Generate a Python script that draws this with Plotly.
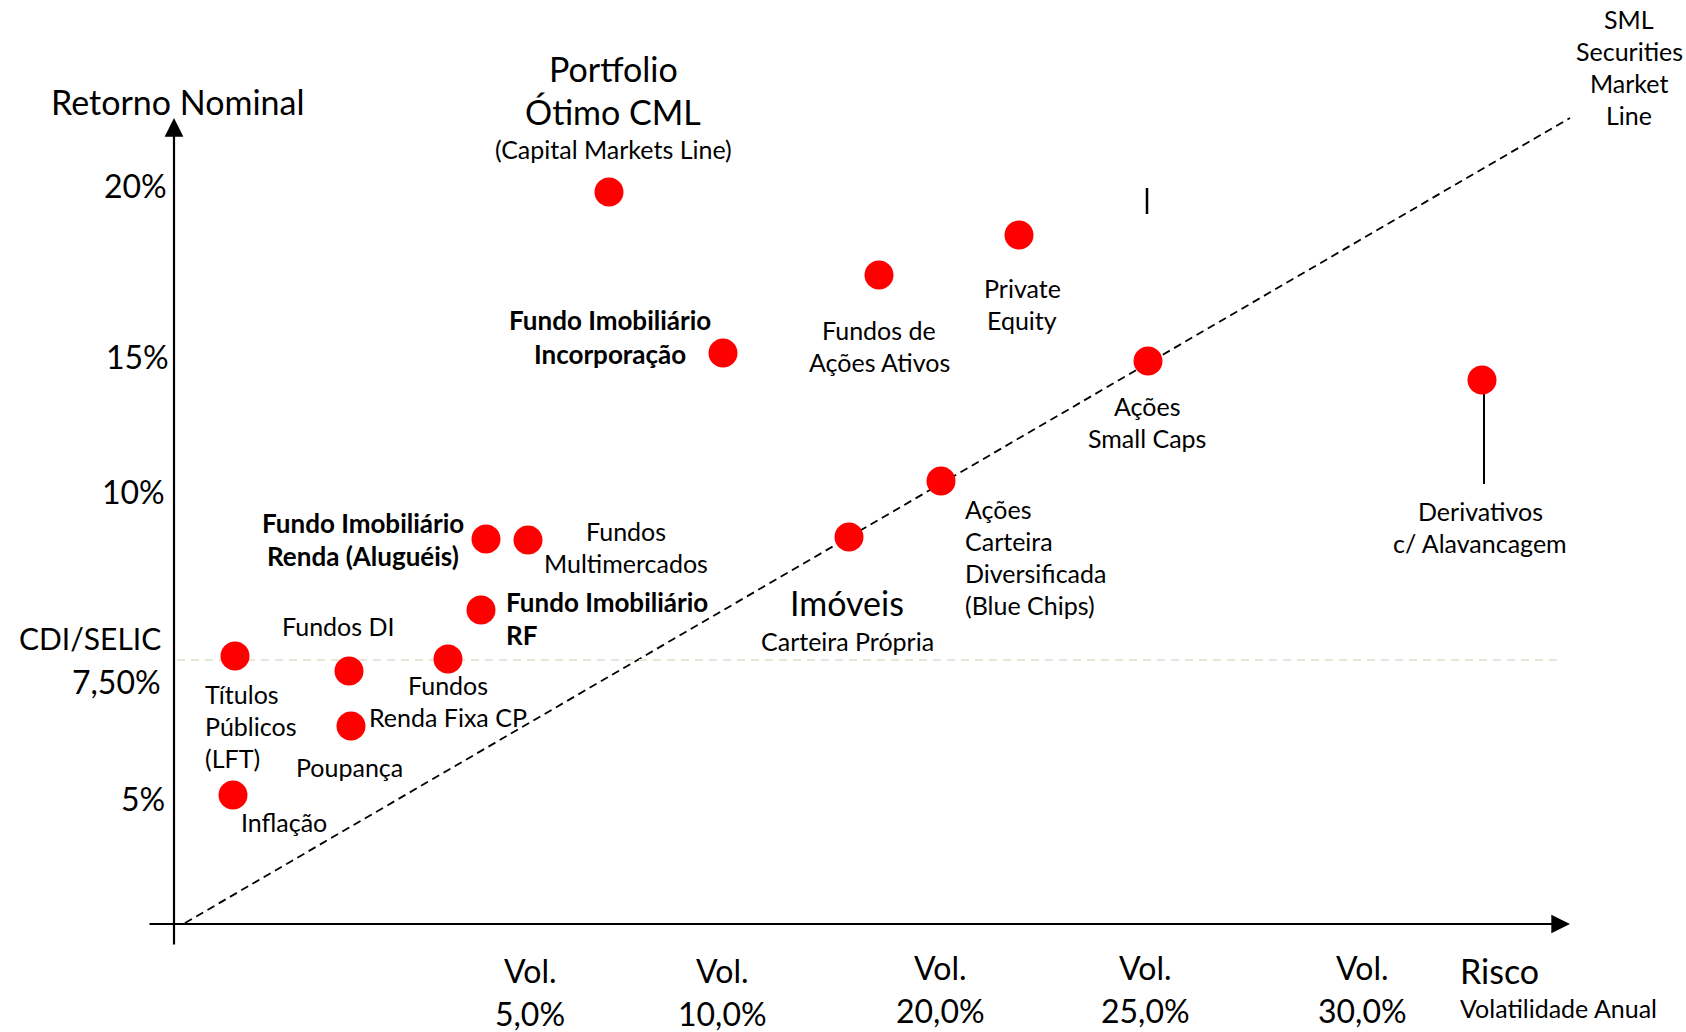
import plotly.graph_objects as go

# Diagram coordinates (x = risk position, y = return position; y axis drawn downward-increasing)
asset_names = ["Portfolio Ótimo CML", "Fundos de Ações Ativos", "Private Equity",
               "Fundo Imobiliário Incorporação", "Ações Small Caps", "Derivativos c/ Alavancagem",
               "Ações Carteira Diversificada", "Imóveis", "Fundo Imobiliário Renda",
               "Fundos Multimercados", "Fundo Imobiliário RF", "Títulos Públicos (LFT)",
               "Fundos DI", "Fundos Renda Fixa CP", "Poupança", "Inflação"]
asset_x = [609, 879, 1019, 723, 1148, 1482, 941, 849, 486, 528, 481, 235, 349, 448, 351, 233]
asset_y = [192, 275, 235, 353, 361, 380, 481, 537, 539, 540, 610, 656, 671, 659, 726, 795]

sml_x = [185, 1570]
sml_y = [923, 118]
cdi_x = [177, 1559]
cdi_y = [660, 660]

ytick_labels = ["20%", "15%", "10%", "CDI/SELIC", "7,50%", "5%"]
ytick_x = [169, 171, 167, 163, 163, 167]
ytick_y = [185, 356, 491, 638, 681, 798]
ytick_size = [32, 32, 32, 30, 32, 32]

vol_labels = ["5,0%", "10,0%", "20,0%", "25,0%", "30,0%"]
vol_x = [530, 722, 940, 1145, 1362]
vol_y = [970, 970, 967, 967, 967]

FONT = "Lato"
BIG = 34
TICK = 32
MID = 25
BOLD = 26

fig = go.Figure()

# SML dashed line
fig.add_trace(go.Scatter(x=sml_x, y=sml_y, mode="lines",
                         line=dict(color="black", width=1.8, dash="8px,5px"),
                         hoverinfo="skip", showlegend=False))
# CDI dashed reference line
fig.add_trace(go.Scatter(x=cdi_x, y=cdi_y, mode="lines",
                         line=dict(color="#e6e6da", width=2, dash="8px,6px"),
                         hoverinfo="skip", showlegend=False))
# Derivativos connector line
fig.add_trace(go.Scatter(x=[1484, 1484], y=[392, 484], mode="lines",
                         line=dict(color="black", width=2), hoverinfo="skip", showlegend=False))
# small stray vertical bar
fig.add_trace(go.Scatter(x=[1147, 1147], y=[188, 214], mode="lines",
                         line=dict(color="black", width=2.5), hoverinfo="skip", showlegend=False))

# Assets
fig.add_trace(go.Scatter(x=asset_x, y=asset_y, mode="markers", text=asset_names,
                         marker=dict(color="#ff0000", size=29, line=dict(width=0)),
                         hoverinfo="text", showlegend=False))

# Axis arrows
fig.add_annotation(x=174, y=118, ax=174, ay=946, xref="x", yref="y", axref="x", ayref="y",
                   text="", showarrow=True, arrowhead=2, arrowsize=1.7, arrowwidth=2.2, arrowcolor="black")
fig.add_annotation(x=1570, y=924, ax=148, ay=924, xref="x", yref="y", axref="x", ayref="y",
                   text="", showarrow=True, arrowhead=2, arrowsize=1.7, arrowwidth=2.2, arrowcolor="black")


def txt(x, y, s, size=MID, xanchor="center", bold=False):
    if bold:
        s = "<b>" + s + "</b>"
    fig.add_annotation(x=x, y=y, text=s, showarrow=False, xref="x", yref="y",
                       xanchor=xanchor, yanchor="middle", align=xanchor,
                       font=dict(family=FONT, size=size, color="black"))


# Y tick labels
for lab, x, y, sz in zip(ytick_labels, ytick_x, ytick_y, ytick_size):
    txt(x, y, lab, size=sz, xanchor="right")

# X volatility labels
for lab, x, y in zip(vol_labels, vol_x, vol_y):
    txt(x, y, "Vol.", size=TICK)
    txt(x, y + 43, lab, size=TICK)

txt(177, 101, "Retorno Nominal", size=BIG)
txt(613, 68, "Portfolio", size=BIG)
txt(613, 111, "Ótimo CML", size=BIG)
txt(613, 149, "(Capital Markets Line)", size=MID)
for i, s in enumerate(["SML", "Securities", "Market", "Line"]):
    txt(1629, 19 + 32 * i, s, size=MID)

txt(1458, 970, "Risco", size=BIG, xanchor="left")
txt(1458, 1008, "Volatilidade Anual", size=MID, xanchor="left")


def lines(x, y0, items, size=MID, xanchor="center", bold=False, step=32):
    for i, s in enumerate(items):
        txt(x, y0 + step * i, s, size=size, xanchor=xanchor, bold=bold)


lines(610, 320, ["Fundo Imobiliário", "Incorporação"], size=BOLD, bold=True, step=34)
lines(879, 330, ["Fundos de", "Ações Ativos"])
lines(1022, 288, ["Private", "Equity"])
lines(1147, 406, ["Ações", "Small Caps"])
lines(1480, 511, ["Derivativos", "c/ Alavancagem"])
lines(963, 509, ["Ações", "Carteira", "Diversificada", "(Blue Chips)"], xanchor="left")
txt(847, 602, "Imóveis", size=BIG)
txt(847, 641, "Carteira Própria", size=MID)
lines(363, 523, ["Fundo Imobiliário", "Renda (Aluguéis)"], size=BOLD, bold=True, step=33)
lines(626, 531, ["Fundos", "Multimercados"])
lines(504, 602, ["Fundo Imobiliário", "RF"], size=BOLD, xanchor="left", bold=True, step=33)
txt(338, 626, "Fundos DI")
lines(203, 694, ["Títulos", "Públicos", "(LFT)"], xanchor="left")
lines(448, 685, ["Fundos", "Renda Fixa CP"])
txt(349, 767, "Poupança")
txt(284, 822, "Inflação")

fig.update_layout(
    width=1686, height=1032,
    margin=dict(l=0, r=0, t=0, b=0),
    paper_bgcolor="white", plot_bgcolor="white",
    xaxis=dict(range=[0, 1686], visible=False, fixedrange=True),
    yaxis=dict(range=[1032, 0], visible=False, fixedrange=True),
    showlegend=False,
)

fig.write_html("out.html")
